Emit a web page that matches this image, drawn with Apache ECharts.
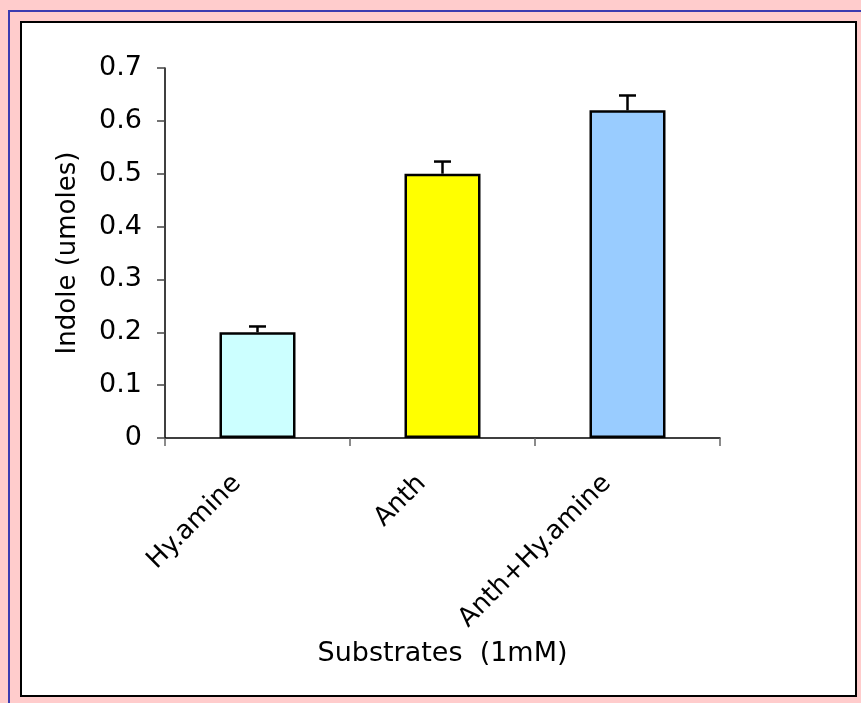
<!DOCTYPE html>
<html>
<head>
<meta charset="utf-8">
<script src="https://cdn.jsdelivr.net/npm/echarts@6/dist/echarts.min.js"></script>
<style>
  html, body { margin: 0; padding: 0; background: #FFCCCC; width: 861px; height: 703px; overflow: hidden; }
  #blueTop { position: absolute; left: 8px; top: 10px; width: 853px; height: 2px; background: #3B3BB0; }
  #blueLeft { position: absolute; left: 8px; top: 10px; width: 2px; height: 693px; background: #3B3BB0; }
  #frame { position: absolute; left: 20px; top: 21px; width: 837px; height: 676px; box-sizing: border-box; border: 2px solid #000; background: #fff; }
  #chart { position: absolute; left: 0; top: 0; width: 861px; height: 703px; }
</style>
</head>
<body>
<div id="blueTop"></div>
<div id="blueLeft"></div>
<div id="frame"></div>
<div id="chart"></div>
<script>
const categories = ['Hy.amine', 'Anth', 'Anth+Hy.amine'];
const values = [0.2, 0.5, 0.62];
const errors = [0.011, 0.023, 0.028];
const barColors = ['#CCFFFF', '#FFFF00', '#99CCFF'];
const yTicks = { min: 0, max: 0.7, interval: 0.1 };
const xTitle = 'Substrates  (1mM)';
const yTitle = 'Indole (umoles)';

const FONT = 'DejaVu Sans';
const chart = echarts.init(document.getElementById('chart'), null, { renderer: 'canvas' });

const option = {
  backgroundColor: 'transparent',
  animation: false,
  grid: { left: 165, right: 141, top: 68, bottom: 265, containLabel: false },
  xAxis: {
    type: 'category',
    data: categories,
    boundaryGap: true,
    axisLine: { show: true, lineStyle: { color: '#000', width: 1.5 } },
    axisTick: { show: true, alignWithLabel: false, length: 8, lineStyle: { color: '#666', width: 1.5 } },
    axisLabel: {
      rotate: 45,
      interval: 0,
      margin: 21,
      color: '#000',
      fontFamily: FONT,
      fontSize: 26,
      padding: [0, 29, 0, 0]
    },
    name: xTitle,
    nameLocation: 'middle',
    nameGap: 202,
    nameTextStyle: { color: '#000', fontFamily: FONT, fontSize: 27 }
  },
  yAxis: {
    type: 'value',
    min: yTicks.min,
    max: yTicks.max,
    interval: yTicks.interval,
    splitLine: { show: false },
    axisLine: { show: true, lineStyle: { color: '#000', width: 1.5 } },
    axisTick: { show: true, length: 8, lineStyle: { color: '#444', width: 1.5 } },
    axisLabel: {
      margin: 23,
      color: '#000',
      fontFamily: FONT,
      fontSize: 27,
      formatter: function (v) { return String(Math.round(v * 10) / 10); }
    },
    name: yTitle,
    nameLocation: 'middle',
    nameGap: 84,
    nameTextStyle: { color: '#000', fontFamily: FONT, fontSize: 26 }
  },
  series: [
    {
      type: 'bar',
      data: values.map(function (v, i) {
        return { value: v, itemStyle: { color: barColors[i] } };
      }),
      barWidth: 76,
      itemStyle: { borderColor: '#000', borderWidth: 2.5 },
      z: 2
    },
    {
      type: 'custom',
      z: 3,
      data: values.map(function (v, i) { return [i, v, v + errors[i]]; }),
      renderItem: function (params, api) {
        const i = api.value(0);
        const base = api.coord([i, api.value(1)]);
        const top = api.coord([i, api.value(2)]);
        const half = 8.5;
        return {
          type: 'group',
          children: [
            { type: 'line', shape: { x1: base[0], y1: base[1], x2: top[0], y2: top[1] }, style: { stroke: '#000', lineWidth: 2.5 } },
            { type: 'line', shape: { x1: top[0] - half, y1: top[1], x2: top[0] + half, y2: top[1] }, style: { stroke: '#000', lineWidth: 2.5 } }
          ]
        };
      }
    }
  ]
};
chart.setOption(option);
</script>
</body>
</html>
